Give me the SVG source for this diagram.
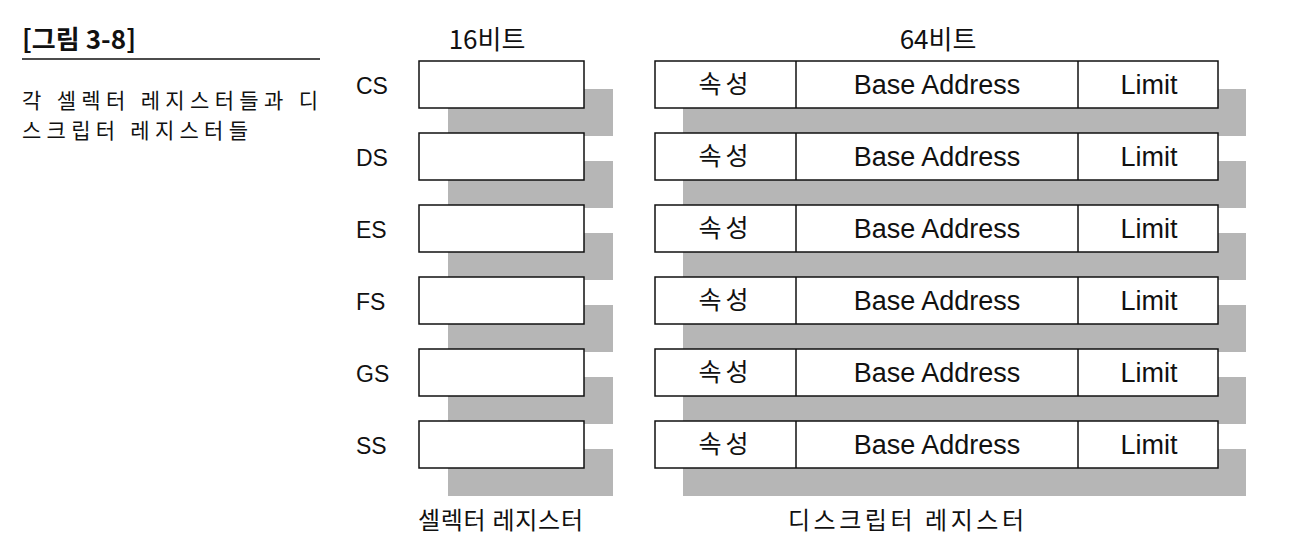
<svg xmlns="http://www.w3.org/2000/svg" width="1300" height="560" viewBox="0 0 1300 560">
<style>
.sh{fill:#b6b6b6}
.bx{fill:#fff;stroke:#111;stroke-width:1.5}
.dv{stroke:#111;stroke-width:1.5}
.lat{font-family:"Liberation Sans",Arial,sans-serif;font-size:27px;fill:#111}
.ko{font-family:"Noto Sans CJK KR","Noto Sans",sans-serif;font-size:24px;fill:#111}
.cap{font-family:"Noto Sans CJK KR","Noto Sans",sans-serif;font-size:21px;fill:#111}
.lbl{font-family:"Liberation Sans",Arial,sans-serif;font-size:23px;fill:#111}
</style>
<defs>
<g id="sel"><rect class="bx" x="0" y="0" width="165" height="47"/></g>
<g id="desc">
<rect class="bx" x="0" y="0" width="563" height="47"/>
<line class="dv" x1="141" y1="0" x2="141" y2="47"/>
<line class="dv" x1="423" y1="0" x2="423" y2="47"/>
<text class="ko" x="70.5" y="32" text-anchor="middle" style="font-size:25px;letter-spacing:4px">속성</text>
<text class="lat" x="282" y="33" text-anchor="middle">Base Address</text>
<text class="lat" x="494" y="33" text-anchor="middle">Limit</text>
</g>
</defs>
<g id="header">
<text x="22" y="49" textLength="114" lengthAdjust="spacing" style="font-family:'Noto Sans CJK KR',sans-serif;font-size:26px;font-weight:bold;fill:#111">[그림 3-8]</text>
<line x1="22" y1="59" x2="320" y2="59" stroke="#111" stroke-width="1.5"/>
<text class="cap" x="22" y="108" textLength="296" lengthAdjust="spacing">각 셀렉터 레지스터들과 디</text>
<text class="cap" x="22" y="138" textLength="226" lengthAdjust="spacing">스크립터 레지스터들</text>
</g>
<g id="titles">
<text class="ko" x="487" y="49" text-anchor="middle" style="font-size:26px">16비트</text>
<text class="ko" x="938" y="49" text-anchor="middle" style="font-size:26px">64비트</text>
<text class="ko" x="418" y="529" textLength="165" lengthAdjust="spacing">셀렉터 레지스터</text>
<text class="ko" x="788" y="529" textLength="236" lengthAdjust="spacing">디스크립터 레지스터</text>
</g>
<g id="shadows">
<rect class="sh" x="448" y="89" width="165" height="47"/>
<rect class="sh" x="448" y="161" width="165" height="47"/>
<rect class="sh" x="448" y="233" width="165" height="47"/>
<rect class="sh" x="448" y="305" width="165" height="47"/>
<rect class="sh" x="448" y="377" width="165" height="47"/>
<rect class="sh" x="448" y="449" width="165" height="47"/>
<rect class="sh" x="683" y="89" width="563" height="47"/>
<rect class="sh" x="683" y="161" width="563" height="47"/>
<rect class="sh" x="683" y="233" width="563" height="47"/>
<rect class="sh" x="683" y="305" width="563" height="47"/>
<rect class="sh" x="683" y="377" width="563" height="47"/>
<rect class="sh" x="683" y="449" width="563" height="47"/>
</g>
<g id="row-CS"><text class="lbl" x="356" y="94">CS</text><use href="#sel" x="419" y="61"/><use href="#desc" x="655" y="61"/></g>
<g id="row-DS"><text class="lbl" x="356" y="166">DS</text><use href="#sel" x="419" y="133"/><use href="#desc" x="655" y="133"/></g>
<g id="row-ES"><text class="lbl" x="356" y="238">ES</text><use href="#sel" x="419" y="205"/><use href="#desc" x="655" y="205"/></g>
<g id="row-FS"><text class="lbl" x="356" y="310">FS</text><use href="#sel" x="419" y="277"/><use href="#desc" x="655" y="277"/></g>
<g id="row-GS"><text class="lbl" x="356" y="382">GS</text><use href="#sel" x="419" y="349"/><use href="#desc" x="655" y="349"/></g>
<g id="row-SS"><text class="lbl" x="356" y="454">SS</text><use href="#sel" x="419" y="421"/><use href="#desc" x="655" y="421"/></g>
<g id="connectors"/>
</svg>
